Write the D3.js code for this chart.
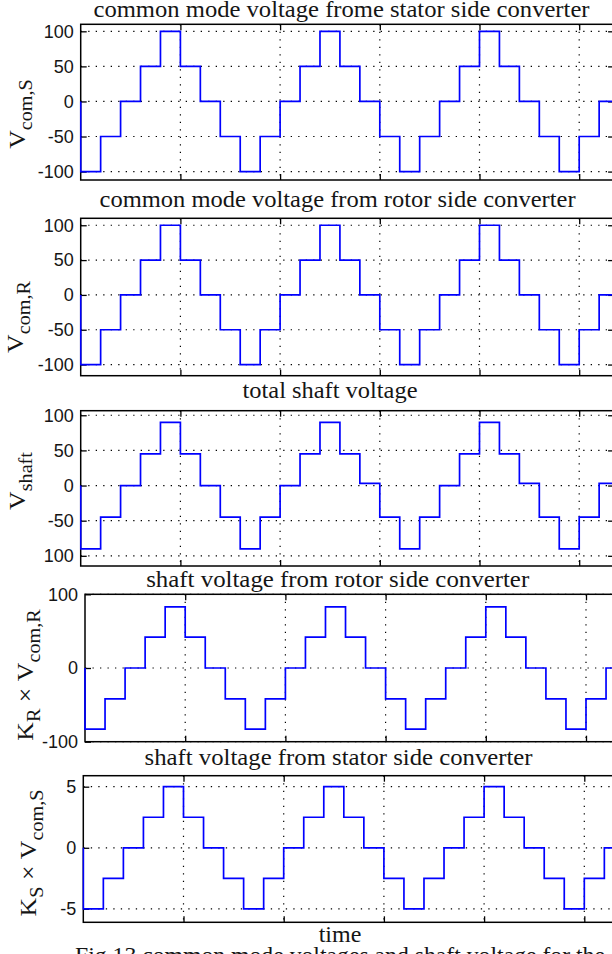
<!DOCTYPE html>
<html>
<head>
<meta charset="utf-8">
<script src="https://cdn.jsdelivr.net/npm/d3@7"></script>
<style>
  body { margin: 0; background: #fff; }
  svg { display: block; }
  .serif { font-family: "Liberation Serif", "Times New Roman", Times, serif; }
  .sans { font-family: "Liberation Sans", Arial, Helvetica, sans-serif; }
</style>
</head>
<body>
<svg width="612" height="954"></svg>
<script>
// start time of every step (in grid divisions, each step is 0.2 long)
var stepTimes = [0, 0.2, 0.4, 0.6, 0.8, 1, 1.2, 1.4, 1.6, 1.8, 2, 2.2, 2.4, 2.6, 2.8,
                 3, 3.2, 3.4, 3.6, 3.8, 4, 4.2, 4.4, 4.6, 4.8, 5, 5.2];
var endTime = 5.4;

// step levels
var vComS = [-100, -50, 0, 50, 100, 50, 0, -50, -100, -50, 0, 50, 100, 50, 0, -50,
             -100, -50, 0, 50, 100, 50, 0, -50, -100, -50, 0];
var vComR = [-100, -50, 0, 50, 100, 50, 0, -50, -100, -50, 0, 50, 100, 50, 0, -50,
             -100, -50, 0, 50, 100, 50, 0, -50, -100, -50, 0];
var vShaft = [-90, -45, 0, 45, 90, 45, 0, -45, -90, -45, 0, 45, 90, 45, 3, -45,
              -90, -45, 0, 45, 90, 45, 3, -45, -90, -45, 3];
var kRvComR = [-83, -42, 0, 42, 83, 42, 0, -42, -83, -42, 0, 42, 83, 42, 0, -42,
               -83, -42, 0, 42, 83, 42, 0, -42, -83, -42, 0];
var kSvComS = [-5, -2.5, 0, 2.5, 5, 2.5, 0, -2.5, -5, -2.5, 0, 2.5, 5, 2.5, 0, -2.5,
               -5, -2.5, 0, 2.5, 5, 2.5, 0, -2.5, -5, -2.5, 0];

var timeTicks = [1, 2, 3, 4, 5];
var ticks100 = [-100, -50, 0, 50, 100];
var labels100 = ["-100", "-50", "0", "50", "100"];
var labelsShaft = ["100", "-50", "0", "50", "100"];
var ticksKR = [-100, 0, 100];
var labelsKR = ["-100", "0", "100"];
var ticksKS = [-5, 0, 5];
var labelsKS = ["-5", "0", "5"];

var titles = ["common mode voltage frome stator side converter",
              "common mode voltage from rotor side converter",
              "total shaft voltage",
              "shaft voltage from rotor side converter",
              "shaft voltage from stator side converter"];

var svg = d3.select("svg");
var ink = "#151515";

// layout of the five axes
var panels = [
  { values: vComS, ticks: ticks100, labels: labels100, yDom: [-112, 110], left: 80.7, top: 24.3, bottom: 180, div: 99.7,
    title: titles[0], tx: 341.5, ty: 17, tw: 496,
    ylab: [["V", 0], ["com,S", 1]], lx: 25, ly: 114 },
  { values: vComR, ticks: ticks100, labels: labels100, yDom: [-116, 110], left: 80.7, top: 218.3, bottom: 375.7, div: 99.7,
    title: titles[1], tx: 337.6, ty: 206.5, tw: 476,
    ylab: [["V", 0], ["com,R", 1]], lx: 23, ly: 317 },
  { values: vShaft, ticks: ticks100, labels: labelsShaft, yDom: [-114.5, 106.5], left: 80.7, top: 410.7, bottom: 566, div: 99.7,
    title: titles[2], tx: 330, ty: 398, tw: 175,
    ylab: [["V", 0], ["shaft", 1]], lx: 25, ly: 481 },
  { values: kRvComR, ticks: ticksKR, labels: labelsKR, yDom: [-100, 100], left: 85, top: 594.3, bottom: 741.7, div: 100.2,
    title: titles[3], tx: 337.7, ty: 586.5, tw: 383,
    ylab: [["K", 0], ["R", 1], [" \u00d7 ", 0], ["V", 0], ["com,R", 1]], lx: 33, ly: 675 },
  { values: kSvComS, ticks: ticksKS, labels: labelsKS, yDom: [-6.1, 5.9], left: 83.3, top: 775.7, bottom: 922.3, div: 100.2,
    title: titles[4], tx: 338.6, ty: 764.5, tw: 388,
    ylab: [["K", 0], ["S", 1], [" \u00d7 ", 0], ["V", 0], ["com,S", 1]], lx: 36, ly: 853 }
];

panels.forEach(function (p, k) {
  var xMax = 5.35;
  var x = d3.scaleLinear().domain([0, xMax]).range([p.left, p.left + xMax * p.div]);
  var y = d3.scaleLinear().domain(p.yDom).range([p.bottom, p.top]);
  var right = x(xMax);

  var g = svg.append("g");

  // title
  g.append("text")
    .attr("class", "serif")
    .attr("x", p.tx).attr("y", p.ty)
    .attr("text-anchor", "middle")
    .style("font-size", "24px")
    .attr("textLength", p.tw).attr("lengthAdjust", "spacingAndGlyphs")
    .attr("fill", ink)
    .text(p.title);

  // dotted grid
  g.append("g").selectAll("line").data(p.ticks).enter().append("line")
    .attr("x1", p.left).attr("x2", right)
    .attr("y1", function (d) { return y(d); }).attr("y2", function (d) { return y(d); })
    .attr("stroke", "#000").attr("stroke-width", 1.2)
    .attr("stroke-dasharray", "1.3,6.2");
  g.append("g").selectAll("line").data(timeTicks).enter().append("line")
    .attr("x1", function (d) { return x(d); }).attr("x2", function (d) { return x(d); })
    .attr("y1", p.top).attr("y2", p.bottom)
    .attr("stroke", "#000").attr("stroke-width", 1.2)
    .attr("stroke-dasharray", "1.3,6.2");

  // axes with inward ticks
  var yAxis = g.append("g").attr("transform", "translate(" + p.left + ",0)")
    .call(d3.axisLeft(y).tickValues(p.ticks).tickSize(-6).tickPadding(7)
      .tickFormat(function (d, i) { return p.labels[i]; }));
  yAxis.attr("font-family", null).attr("font-size", null);
  yAxis.selectAll("text").attr("class", "sans").style("font-size", "18px").attr("fill", ink);
  g.append("g").attr("transform", "translate(" + right + ",0)")
    .call(d3.axisRight(y).tickValues(p.ticks).tickSize(-6).tickFormat(""));
  g.append("g").attr("transform", "translate(0," + p.bottom + ")")
    .call(d3.axisBottom(x).tickValues(timeTicks).tickSize(-6).tickFormat(""));
  g.append("g").attr("transform", "translate(0," + p.top + ")")
    .call(d3.axisTop(x).tickValues(timeTicks).tickSize(-6).tickFormat(""));
  g.selectAll(".domain").remove();
  g.selectAll(".tick line").attr("stroke", "#000").attr("stroke-width", 1.3);

  // box
  g.append("rect")
    .attr("x", p.left).attr("y", p.top)
    .attr("width", right - p.left).attr("height", p.bottom - p.top)
    .attr("fill", "none").attr("stroke", "#000").attr("stroke-width", 1.5);

  // step signal
  var clipId = "clip" + k;
  svg.append("clipPath").attr("id", clipId).append("rect")
    .attr("x", p.left - 1).attr("y", p.top)
    .attr("width", right - p.left + 1).attr("height", p.bottom - p.top);
  var pts = [[0, 0]];
  stepTimes.forEach(function (t, i) { pts.push([t, p.values[i]]); });
  pts.push([endTime, p.values[p.values.length - 1]]);
  var line = d3.line()
    .x(function (d) { return x(d[0]); })
    .y(function (d) { return y(d[1]); })
    .curve(d3.curveStepAfter);
  g.append("path")
    .attr("d", line(pts))
    .attr("clip-path", "url(#" + clipId + ")")
    .attr("fill", "none").attr("stroke", "#0000ff").attr("stroke-width", 1.7);

  // y label, rotated, with subscripts
  var lab = g.append("text")
    .attr("class", "serif")
    .attr("transform", "translate(" + p.lx + "," + p.ly + ") rotate(-90) scale(1.12,1)")
    .attr("text-anchor", "middle")
    .style("font-size", "23px")
    .attr("fill", ink);
  var lowered = false;
  p.ylab.forEach(function (part) {
    var ts = lab.append("tspan").text(part[0]);
    if (part[1]) ts.style("font-size", "18px");
    if (part[1] && !lowered) { ts.attr("dy", 7); lowered = true; }
    else if (!part[1] && lowered) { ts.attr("dy", -7); lowered = false; }
  });
});

// x label and the (cut off) figure caption
svg.append("text")
  .attr("class", "serif")
  .attr("x", 340).attr("y", 942)
  .attr("text-anchor", "middle")
  .style("font-size", "24px")
  .attr("fill", ink)
  .text("time");

svg.append("text")
  .attr("class", "serif")
  .attr("x", 75).attr("y", 963)
  .style("font-size", "24px")
  .attr("textLength", 530).attr("lengthAdjust", "spacingAndGlyphs")
  .attr("fill", ink)
  .text("Fig.13   common mode voltages and shaft voltage for the");
</script>
</body>
</html>
